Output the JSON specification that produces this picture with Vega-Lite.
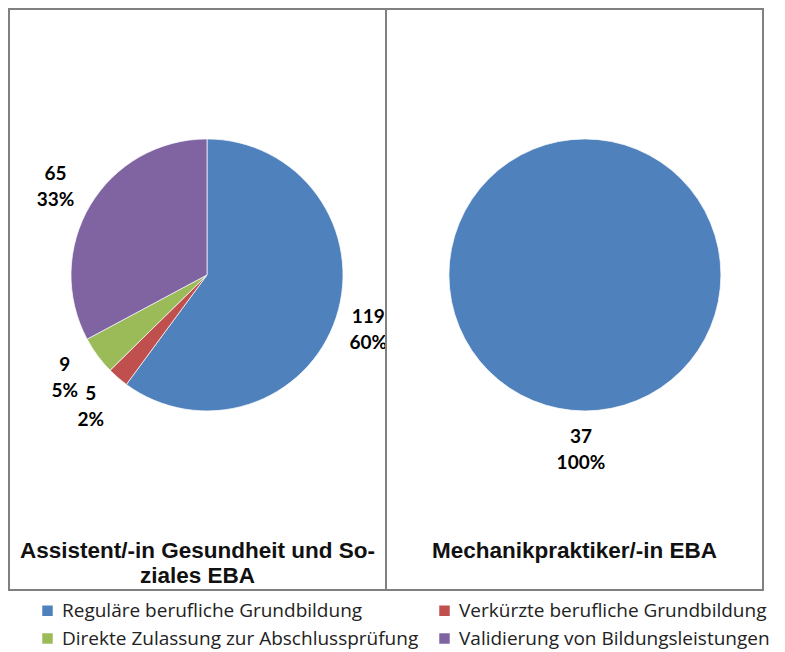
{
  "$schema": "https://vega.github.io/schema/vega-lite/v6.json",
  "background": "white",
  "padding": {"left": 8, "top": 8, "right": 0, "bottom": 0},
  "bounds": "flush",
  "data": {"values": [
    {"panel": "A", "kategorie": "Reguläre berufliche Grundbildung", "anzahl": 119, "label": ["119", "60%"], "idx": 1},
    {"panel": "A", "kategorie": "Verkürzte berufliche Grundbildung", "anzahl": 5, "label": ["5", "2%"], "idx": 2},
    {"panel": "A", "kategorie": "Direkte Zulassung zur Abschlussprüfung", "anzahl": 9, "label": ["9", "5%"], "idx": 3},
    {"panel": "A", "kategorie": "Validierung von Bildungsleistungen", "anzahl": 65, "label": ["65", "33%"], "idx": 4},
    {"panel": "B", "kategorie": "Reguläre berufliche Grundbildung", "anzahl": 37, "label": ["37", "100%"], "idx": 1}
  ]},
  "spacing": 0,
  "hconcat": [
    {
      "width": 377, "height": 581,
      "title": {"text": ["Assistent/-in Gesundheit und So-", "ziales EBA"], "orient": "bottom", "offset": -50, "baseline": "top"},
      "transform": [{"filter": "datum.panel === 'A'"}],
      "encoding": {
        "theta": {"field": "anzahl", "type": "quantitative", "stack": true},
        "order": {"field": "idx", "type": "quantitative"},
        "x": {"datum": 0, "type": "quantitative", "scale": {"domain": [-1.106, 1], "nice": false, "zero": false}, "axis": null},
        "y": {"datum": 0, "type": "quantitative", "scale": {"domain": [-1, 0.844], "nice": false, "zero": false}, "axis": null}
      },
      "layer": [
        {"mark": {"type": "arc", "outerRadius": 136, "stroke": "white", "strokeWidth": 0.7},
         "encoding": {"color": {"field": "kategorie", "type": "nominal", "title": null,
           "scale": {"domain": ["Reguläre berufliche Grundbildung", "Verkürzte berufliche Grundbildung", "Direkte Zulassung zur Abschlussprüfung", "Validierung von Bildungsleistungen"],
                     "range": ["#4F81BD", "#C0504D", "#9BBB59", "#8064A2"]}}}},
        {"mark": {"type": "text", "radius": 173, "dy": -12, "dx": -3, "font": "Lato", "fontSize": 19, "fontWeight": "bold", "lineHeight": 26, "fill": "black"},
         "encoding": {"text": {"field": "label"}, "detail": {"field": "kategorie"}}}
      ]
    },
    {
      "width": 377, "height": 581,
      "title": {"text": "Mechanikpraktiker/-in EBA", "orient": "bottom", "offset": -50, "baseline": "top"},
      "transform": [{"filter": "datum.panel === 'B'"}],
      "encoding": {
        "theta": {"field": "anzahl", "type": "quantitative", "stack": true},
        "order": {"field": "idx", "type": "quantitative"},
        "x": {"datum": 0, "type": "quantitative", "scale": {"domain": [-1.117, 1], "nice": false, "zero": false}, "axis": null},
        "y": {"datum": 0, "type": "quantitative", "scale": {"domain": [-1, 0.844], "nice": false, "zero": false}, "axis": null}
      },
      "layer": [
        {"mark": {"type": "arc", "outerRadius": 136, "stroke": "white", "strokeWidth": 0.7},
         "encoding": {"color": {"field": "kategorie", "type": "nominal", "title": null,
           "scale": {"domain": ["Reguläre berufliche Grundbildung", "Verkürzte berufliche Grundbildung", "Direkte Zulassung zur Abschlussprüfung", "Validierung von Bildungsleistungen"],
                     "range": ["#4F81BD", "#C0504D", "#9BBB59", "#8064A2"]}}}},
        {"mark": {"type": "text", "radius": 174, "dy": -12, "dx": -4, "font": "Lato", "fontSize": 19, "fontWeight": "bold", "lineHeight": 26, "fill": "black"},
         "encoding": {"text": {"field": "label"}, "detail": {"field": "kategorie"}}}
      ]
    }
  ],
  "resolve": {"scale": {"theta": "independent", "x": "independent", "y": "independent", "color": "shared"}},
  "config": {
    "view": {"stroke": "#808080", "strokeWidth": 2},
    "title": {"font": "Liberation Sans", "fontSize": 22.5, "fontWeight": "bold", "color": "#111111", "lineHeight": 25, "anchor": "middle"},
    "legend": {"orient": "none", "legendX": 29, "legendY": 592, "padding": 0, "direction": "horizontal", "columns": 2, "symbolType": "square", "symbolSize": 110, "symbolStrokeWidth": 0,
               "labelFont": "Open Sans", "labelFontSize": 19, "labelColor": "#222222", "labelLimit": 500, "columnPadding": 16, "rowPadding": 8, "symbolOffset": 0, "labelOffset": 5}
  }
}
